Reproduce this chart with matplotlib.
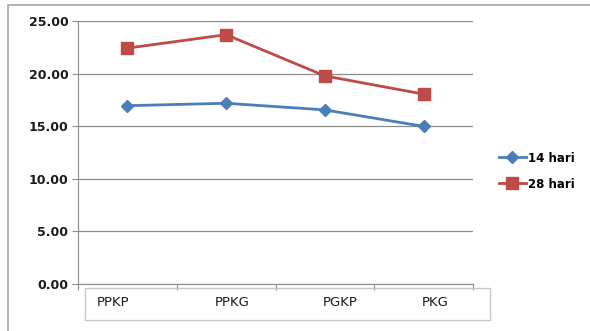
import matplotlib
matplotlib.use('Agg')
import matplotlib.pyplot as plt
from matplotlib.lines import Line2D
from matplotlib.patches import Rectangle

categories = ['PPKP', 'PPKG', 'PGKP', 'PKG']
hari_14 = [16.95, 17.18, 16.55, 14.98]
hari_28 = [22.42, 23.70, 19.78, 18.05]
y_ticks = [0, 5, 10, 15, 20, 25]

fig = plt.figure(figsize=(5.9, 3.31), dpi=100)
fig.patch.set_facecolor('white')

# outer chart border (only left and top edges show in the reference)
fig.add_artist(Line2D([8 / 590, 8 / 590, 1.0], [0.0, 1 - 5 / 331, 1 - 5 / 331],
                      transform=fig.transFigure, color='#a6a6a6', linewidth=1.2))

ax = fig.add_axes([78 / 590, 1 - 284 / 331, (473 - 78) / 590, (284 - 21) / 331])

x = list(range(len(categories)))
ax.plot(x, hari_14, color='#4a7ebb', linewidth=2, marker='D', markersize=6.5,
        label='14 hari')
ax.plot(x, hari_28, color='#be4b48', linewidth=2, marker='s', markersize=8.5,
        label='28 hari')

ax.set_xlim(-0.5, 3.5)
ax.set_ylim(0, 25)
ax.set_yticks(y_ticks)
ax.set_yticklabels(['%.2f' % v for v in y_ticks], fontsize=9,
                   fontweight='bold', color='#1a1a1a')
ax.yaxis.grid(True, color='#8c8c8c', linewidth=0.9)
ax.set_axisbelow(True)

for s in ['top', 'right']:
    ax.spines[s].set_visible(False)
ax.spines['left'].set_color('#8c8c8c')
ax.spines['bottom'].set_color('#8c8c8c')
ax.tick_params(axis='y', length=4, color='#8c8c8c', pad=3)

# category boundary ticks on x axis, labels drawn in a box below
ax.set_xticks([-0.5, 0.5, 1.5, 2.5, 3.5])
ax.set_xticklabels([])
ax.tick_params(axis='x', length=4, color='#8c8c8c', direction='out')

fig.add_artist(Rectangle((85 / 590, 1 - 320 / 331), (490 - 85) / 590, (320 - 288) / 331,
                         transform=fig.transFigure, fill=False,
                         edgecolor='#c8c8c8', linewidth=1))
label_px = [113, 232, 340, 435]
for px, c in zip(label_px, categories):
    fig.text(px / 590, 1 - 303 / 331, c, ha='center', va='center',
             fontsize=9.5, color='#1a1a1a')

fig.legend(loc='upper left', bbox_to_anchor=(488 / 590, 1 - 141 / 331),
           frameon=False, handlelength=2.3, handletextpad=0.2,
           labelspacing=1.1, prop={'weight': 'bold', 'size': 8.5})

fig.savefig('out.png', dpi=100)
